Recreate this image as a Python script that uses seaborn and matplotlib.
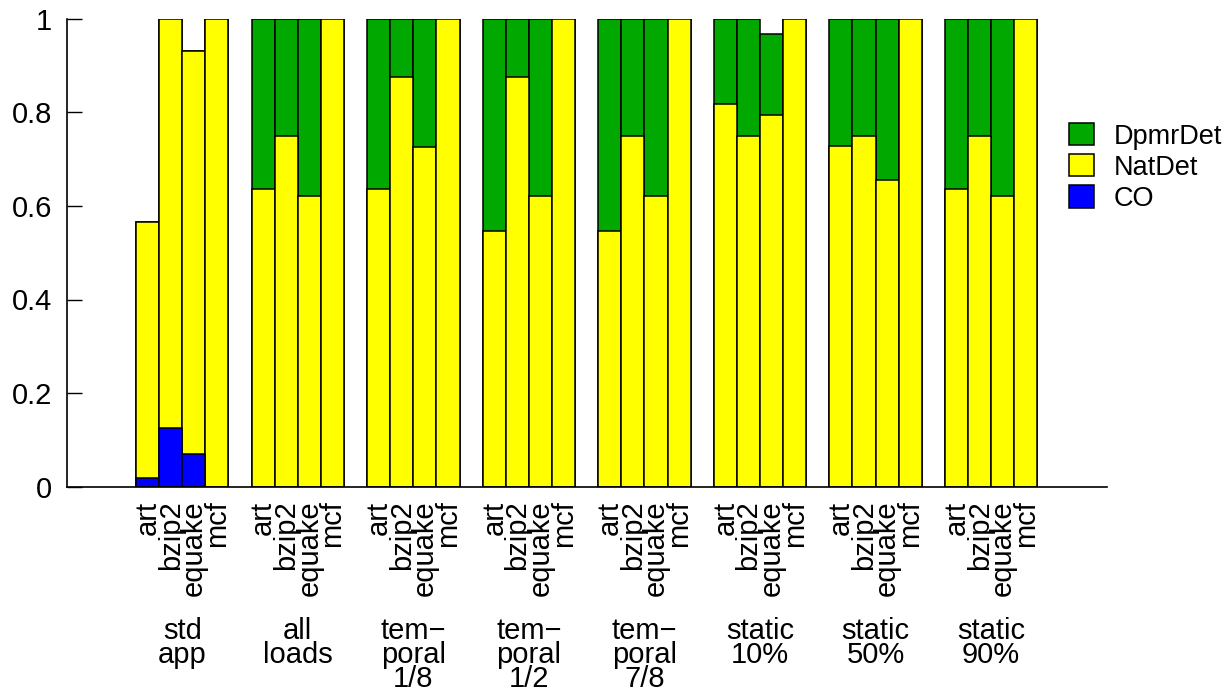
import matplotlib
matplotlib.use("Agg")
import matplotlib.pyplot as plt
import matplotlib.transforms as mtransforms
from matplotlib.patches import Patch
import numpy as np
import pandas as pd
import seaborn as sns

# Configurations along the x axis (each one holds four benchmarks)
groups = ["std\napp", "all\nloads", "tem\u2212\nporal\n1/8", "tem\u2212\nporal\n1/2",
          "tem\u2212\nporal\n7/8", "static\n10%", "static\n50%", "static\n90%"]
benchmarks = ["art", "bzip2", "equake", "mcf"]

# Fraction of runs per outcome, one row per configuration, columns follow `benchmarks`
co_frac = [
    [0.019, 0.125, 0.070, 0.0],
    [0.0, 0.0, 0.0, 0.0],
    [0.0, 0.0, 0.0, 0.0],
    [0.0, 0.0, 0.0, 0.0],
    [0.0, 0.0, 0.0, 0.0],
    [0.0, 0.0, 0.0, 0.0],
    [0.0, 0.0, 0.0, 0.0],
    [0.0, 0.0, 0.0, 0.0],
]
natdet_frac = [
    [0.546, 0.875, 0.862, 1.0],
    [0.636, 0.750, 0.621, 1.0],
    [0.636, 0.875, 0.725, 1.0],
    [0.546, 0.875, 0.621, 1.0],
    [0.546, 0.750, 0.621, 1.0],
    [0.818, 0.750, 0.794, 1.0],
    [0.728, 0.750, 0.655, 1.0],
    [0.636, 0.750, 0.621, 1.0],
]
dpmrdet_frac = [
    [0.0, 0.0, 0.0, 0.0],
    [0.364, 0.250, 0.379, 0.0],
    [0.364, 0.125, 0.275, 0.0],
    [0.454, 0.125, 0.379, 0.0],
    [0.454, 0.250, 0.379, 0.0],
    [0.182, 0.250, 0.173, 0.0],
    [0.272, 0.250, 0.345, 0.0],
    [0.364, 0.250, 0.379, 0.0],
]

series_names = ["DpmrDet", "NatDet", "CO"]
series_colors = {"DpmrDet": "#00A800", "NatDet": "#FFFF00", "CO": "#0000FF"}

# Long table: one row per bar, with cumulative stack tops
slot = len(benchmarks) + 1
rows = []
for g, grp in enumerate(groups):
    for j, b in enumerate(benchmarks):
        co = co_frac[g][j]
        nat = natdet_frac[g][j]
        dp = dpmrdet_frac[g][j]
        rows.append({"pos": g * slot + j, "group": grp, "bench": b,
                     "co_top": co, "nat_top": co + nat, "total": co + nat + dp})
df = pd.DataFrame(rows)

sns.set_style("white")
plt.rcParams["font.family"] = ["Liberation Sans", "DejaVu Sans"]
plt.rcParams["text.color"] = "black"
plt.rcParams["xtick.color"] = "black"
plt.rcParams["ytick.color"] = "black"
plt.rcParams["axes.labelcolor"] = "black"

fig = plt.figure(figsize=(12.25, 6.91), dpi=100)
W, H = 1225, 691
ax_left, ax_right, ax_top, ax_bot = 66.7, 1106.7, 18.7, 486.7
ax = fig.add_axes([ax_left / W, 1 - ax_bot / H, (ax_right - ax_left) / W, (ax_bot - ax_top) / H])

bar_kw = dict(x="pos", native_scale=True, width=1.0, saturation=1, errorbar=None,
              edgecolor="black", linewidth=1.1, ax=ax)
# Stack drawn back to front: full height, then NatDet+CO, then CO
sns.barplot(data=df, y="total", color=series_colors["DpmrDet"], **bar_kw)
sns.barplot(data=df, y="nat_top", color=series_colors["NatDet"], **bar_kw)
sns.barplot(data=df[df["co_top"] > 0], y="co_top", color=series_colors["CO"], **bar_kw)

ax.set_xlim(-3.5, 41.5)
ax.set_ylim(0, 1)
ax.set_xlabel("")
ax.set_ylabel("")

ax.set_yticks([0, 0.2, 0.4, 0.6, 0.8, 1.0])
ax.set_yticklabels(["0", "0.2", "0.4", "0.6", "0.8", "1"])
ax.tick_params(axis="y", direction="in", length=10.8, width=1.0, pad=10.5,
               labelsize=21, left=True)

ax.set_xticks(df["pos"].to_numpy())
ax.set_xticklabels(df["bench"].tolist(), rotation=90, ha="center", va="top")
ax.tick_params(axis="x", length=0, pad=10.0, labelsize=21)

for side in ["top", "right"]:
    ax.spines[side].set_visible(False)
for side in ["left", "bottom"]:
    ax.spines[side].set_color("black")
    ax.spines[side].set_linewidth(1.2)

# Configuration names under each group of bars
trans = mtransforms.blended_transform_factory(ax.transData, ax.transAxes)
for g, grp in enumerate(groups):
    ax.text(g * slot + (len(benchmarks) - 1) / 2, -0.279, grp, transform=trans,
            ha="center", va="top", fontsize=21, linespacing=0.81)

handles = [Patch(facecolor=series_colors[n], edgecolor="black", linewidth=1.1, label=n)
           for n in series_names]
fig.legend(handles=handles, loc="upper left", bbox_to_anchor=(1069 / W, 1 - 123 / H),
           frameon=False, fontsize=19.5, handlelength=0.93, handleheight=0.89,
           handletextpad=0.72, labelspacing=0.17, borderpad=0, borderaxespad=0)

fig.savefig("out.png", dpi=100)
